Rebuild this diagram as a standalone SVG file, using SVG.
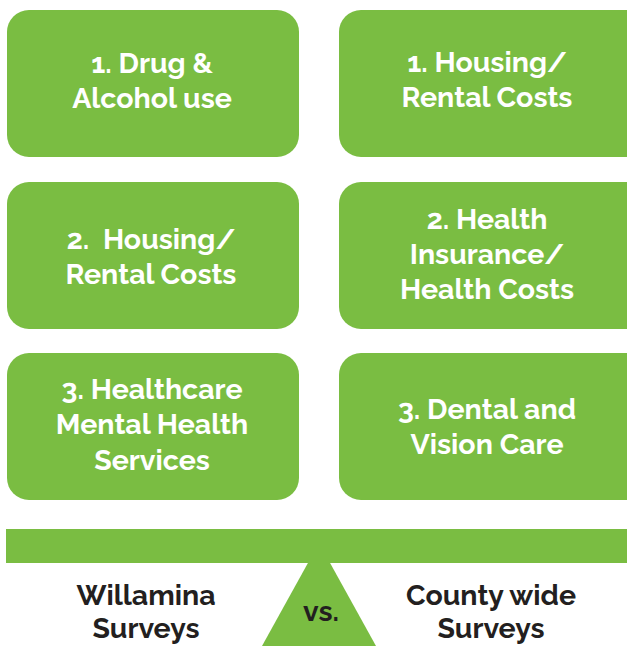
<svg xmlns="http://www.w3.org/2000/svg" width="627" height="646" viewBox="0 0 627 646">
<style>
.box{fill:#7abd42}
.t{font-family:"Raleway","Open Sans","Liberation Sans",sans-serif;font-weight:700;font-size:28.5px;fill:#ffffff;text-anchor:middle}
.d{font-family:"Raleway","Open Sans","Liberation Sans",sans-serif;font-weight:700;font-size:28.5px;fill:#231f20;text-anchor:middle}
</style>
<rect width="627" height="646" fill="#ffffff"/>
<g id="n1"><rect class="box" x="7" y="10" width="292" height="147" rx="22"/><text class="t" x="152" y="73">1. Drug &amp;</text><text class="t" x="152" y="108">Alcohol use</text></g>
<g id="n2"><rect class="box" x="339" y="10" width="310" height="147" rx="22"/><text class="t" x="487" y="72">1. Housing/</text><text class="t" x="487" y="107">Rental Costs</text></g>
<g id="n3"><rect class="box" x="7" y="182" width="292" height="147" rx="22"/><text class="t" x="151" y="249" xml:space="preserve">2.  Housing/</text><text class="t" x="151" y="284">Rental Costs</text></g>
<g id="n4"><rect class="box" x="339" y="182" width="310" height="147" rx="22"/><text class="t" x="487" y="229">2. Health</text><text class="t" x="487" y="264">Insurance/</text><text class="t" x="487" y="299">Health Costs</text></g>
<g id="n5"><rect class="box" x="7" y="353" width="292" height="147" rx="22"/><text class="t" x="152" y="399">3. Healthcare</text><text class="t" x="152" y="434">Mental Health</text><text class="t" x="152" y="470">Services</text></g>
<g id="n6"><rect class="box" x="339" y="353" width="310" height="147" rx="22"/><text class="t" x="487" y="419">3. Dental and</text><text class="t" x="487" y="454">Vision Care</text></g>
<g id="scale">
<polygon class="box" points="319,543 376,646 262,646"/>
<rect class="box" x="6" y="529" width="621" height="34"/>
<text class="d" x="321" y="621">vs.</text>
</g>
<g id="left-label"><text class="d" x="146" y="605">Willamina</text><text class="d" x="146" y="638">Surveys</text></g>
<g id="right-label"><text class="d" x="491" y="605">County wide</text><text class="d" x="491" y="638">Surveys</text></g>
<g id="connectors"></g>
</svg>
